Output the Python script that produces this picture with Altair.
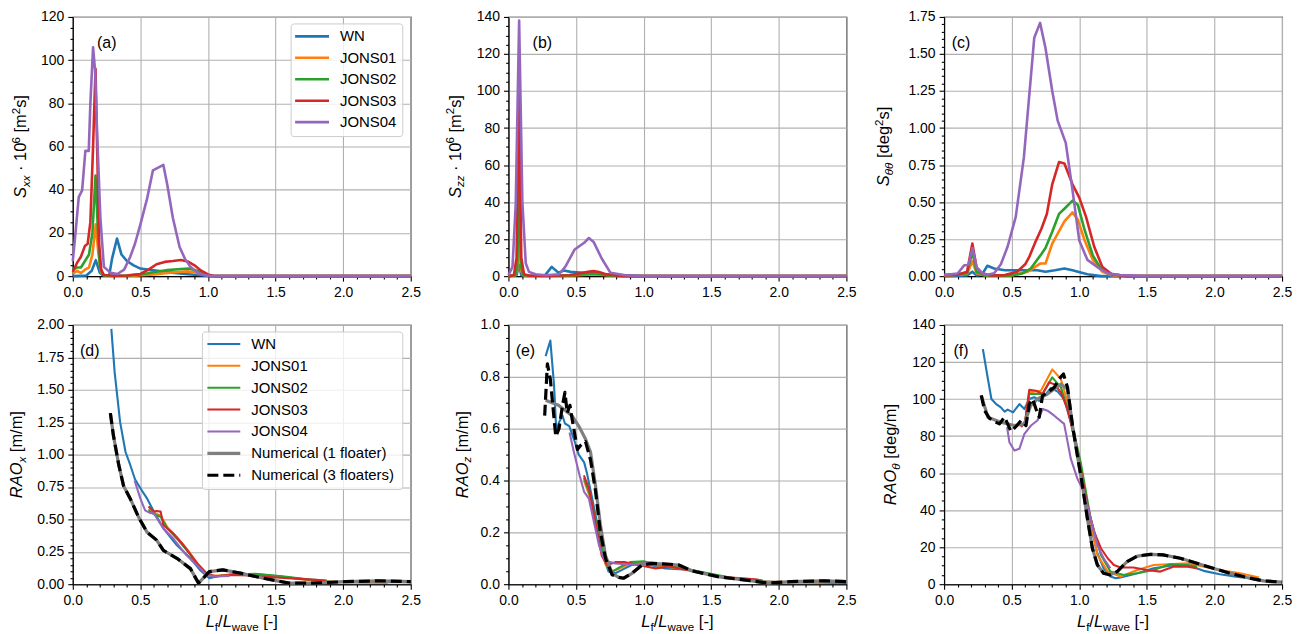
import altair as alt
import pandas as pd

FONT = "Liberation Sans"
W, H = 339, 260
TS = 16.5  # axis-title font size
LS = 15    # legend font size
PS = 16    # panel-label font size

NAMES = ["WN", "JONS01", "JONS02", "JONS03", "JONS04",
         "Numerical (1 floater)", "Numerical (3 floaters)"]
COLORS = ["#1f77b4", "#ff7f0e", "#2ca02c", "#d62728", "#9467bd", "#7f7f7f", "#000000"]
DASH = [11, 5]

# ---------------- (a) S_xx ----------------
sxx_wn_x = [0.0, 0.10, 0.14, 0.17, 0.20, 0.23, 0.27, 0.29, 0.327, 0.36, 0.40, 0.45, 0.50, 0.58, 0.66, 0.75, 0.85, 0.95, 1.02, 2.5]
sxx_wn_y = [0.0, 0.3, 2.5, 7.4, 1.5, 0.2, 0.5, 8.0, 17.4, 10.0, 7.0, 5.0, 3.5, 2.8, 2.2, 1.5, 0.9, 0.4, 0.0, 0.0]
sxx_j1_x = [0.0, 0.03, 0.06, 0.09, 0.12, 0.145, 0.17, 0.19, 0.21, 0.24, 0.3, 0.45, 0.6, 0.7, 0.8, 0.85, 0.9, 0.95, 1.0, 1.05, 2.5]
sxx_j1_y = [1.0, 2.5, 1.5, 3.0, 4.0, 10.0, 24.0, 10.0, 1.5, 0.3, 0.1, 0.2, 0.8, 1.5, 2.0, 2.2, 1.8, 1.0, 0.4, 0.0, 0.0]
sxx_j2_x = [0.0, 0.03, 0.06, 0.09, 0.12, 0.145, 0.168, 0.185, 0.2, 0.22, 0.26, 0.4, 0.5, 0.6, 0.7, 0.8, 0.86, 0.92, 0.97, 1.02, 2.5]
sxx_j2_y = [3.0, 4.0, 4.0, 7.0, 10.0, 20.0, 46.6, 22.0, 5.0, 0.5, 0.2, 0.3, 0.8, 1.8, 2.8, 3.3, 3.5, 2.5, 1.2, 0.0, 0.0]
sxx_j3_x = [0.0, 0.03, 0.06, 0.09, 0.11, 0.13, 0.15, 0.168, 0.18, 0.195, 0.21, 0.23, 0.3, 0.4, 0.5, 0.56, 0.62, 0.68, 0.74, 0.8, 0.85, 0.9, 0.95, 1.0, 1.05, 2.5]
sxx_j3_y = [2.0, 6.0, 9.0, 14.0, 15.0, 25.0, 60.0, 96.0, 60.0, 15.0, 3.0, 0.5, 0.2, 0.3, 1.0, 3.0, 5.5, 6.6, 7.0, 7.5, 6.8, 5.0, 2.5, 0.8, 0.0, 0.0]
sxx_j4_x = [0.0, 0.02, 0.044, 0.069, 0.093, 0.118, 0.13, 0.15, 0.165, 0.18, 0.204, 0.23, 0.28, 0.33, 0.38, 0.425, 0.46, 0.5, 0.55, 0.593, 0.67, 0.7, 0.74, 0.79, 0.83, 0.87, 0.92, 0.97, 1.02, 2.5]
sxx_j4_y = [7.0, 20.0, 36.6, 39.7, 58.0, 58.0, 80.0, 106.0, 95.0, 66.0, 27.0, 4.3, 1.5, 1.0, 3.0, 9.0, 15.0, 24.0, 36.0, 49.0, 51.5, 42.0, 27.0, 13.5, 8.0, 4.3, 1.8, 0.5, 0.0, 0.0]

# ---------------- (b) S_zz ----------------
szz_wn_x = [0.0, 0.06, 0.079, 0.095, 0.12, 0.2, 0.27, 0.32, 0.37, 0.41, 0.46, 0.55, 0.65, 0.75, 0.85, 1.0, 2.5]
szz_wn_y = [0.0, 0.5, 6.0, 0.5, 0.2, 0.2, 0.4, 5.0, 1.8, 3.0, 2.3, 1.8, 1.3, 0.8, 0.4, 0.0, 0.0]
szz_j1_x = [0.0, 0.05, 0.065, 0.079, 0.093, 0.11, 0.15, 0.4, 0.55, 0.62, 0.7, 0.8, 2.5]
szz_j1_y = [0.0, 0.4, 3.0, 25.0, 3.0, 0.5, 0.1, 0.1, 0.6, 0.9, 0.6, 0.1, 0.0]
szz_j2_x = [0.0, 0.05, 0.065, 0.079, 0.093, 0.11, 0.15, 0.3, 0.5, 0.6, 0.63, 0.68, 0.75, 0.85, 2.5]
szz_j2_y = [0.0, 0.5, 5.0, 49.0, 5.0, 0.6, 0.2, 0.1, 0.6, 1.3, 1.5, 1.1, 0.4, 0.0, 0.0]
szz_j3_x = [0.0, 0.04, 0.06, 0.079, 0.095, 0.115, 0.15, 0.3, 0.45, 0.55, 0.6, 0.63, 0.67, 0.72, 0.8, 0.9, 2.5]
szz_j3_y = [0.0, 0.5, 10.0, 100.0, 10.0, 1.0, 0.3, 0.2, 0.5, 1.8, 2.5, 2.7, 2.2, 1.0, 0.3, 0.0, 0.0]
szz_j4_x = [0.0, 0.03, 0.054, 0.079, 0.103, 0.128, 0.152, 0.2, 0.275, 0.374, 0.42, 0.49, 0.56, 0.595, 0.63, 0.69, 0.755, 0.865, 0.99, 2.5]
szz_j4_y = [0.5, 5.0, 39.0, 138.0, 40.0, 7.0, 2.3, 1.0, 0.5, 1.0, 5.0, 14.4, 18.0, 20.6, 18.5, 9.5, 1.8, 0.5, 0.0, 0.0]

# ---------------- (c) S_thetatheta ----------------
stt_wn_x = [0.0, 0.17, 0.209, 0.24, 0.28, 0.32, 0.37, 0.45, 0.57, 0.69, 0.75, 0.82, 0.89, 0.95, 0.99, 1.06, 1.16, 1.3, 2.5]
stt_wn_y = [0.0, 0.005, 0.03, 0.005, 0.01, 0.07, 0.052, 0.04, 0.04, 0.04, 0.03, 0.04, 0.052, 0.04, 0.03, 0.013, 0.0, 0.0, 0.0]
stt_j1_x = [0.0, 0.17, 0.209, 0.24, 0.3, 0.5, 0.62, 0.71, 0.75, 0.8, 0.89, 0.95, 0.99, 1.04, 1.1, 1.17, 1.24, 1.35, 2.5]
stt_j1_y = [0.003, 0.015, 0.10, 0.02, 0.004, 0.005, 0.03, 0.085, 0.085, 0.22, 0.37, 0.43, 0.38, 0.24, 0.11, 0.03, 0.007, 0.0, 0.0]
stt_j2_x = [0.0, 0.17, 0.209, 0.24, 0.3, 0.5, 0.58, 0.64, 0.72, 0.75, 0.8, 0.85, 0.89, 0.95, 0.99, 1.04, 1.1, 1.16, 1.24, 1.35, 2.5]
stt_j2_y = [0.005, 0.02, 0.164, 0.03, 0.005, 0.005, 0.018, 0.05, 0.15, 0.19, 0.3, 0.42, 0.455, 0.51, 0.48, 0.31, 0.14, 0.05, 0.013, 0.0, 0.0]
stt_j3_x = [0.0, 0.1, 0.17, 0.209, 0.24, 0.28, 0.35, 0.45, 0.54, 0.6, 0.63, 0.68, 0.72, 0.76, 0.8, 0.85, 0.89, 0.95, 1.0, 1.05, 1.11, 1.17, 1.24, 1.35, 2.5]
stt_j3_y = [0.007, 0.01, 0.03, 0.22, 0.06, 0.02, 0.005, 0.007, 0.03, 0.08, 0.13, 0.24, 0.32, 0.42, 0.62, 0.77, 0.76, 0.62, 0.53, 0.4, 0.2, 0.063, 0.013, 0.0, 0.0]
stt_j4_x = [0.0, 0.1, 0.15, 0.18, 0.21, 0.24, 0.28, 0.32, 0.37, 0.42, 0.47, 0.53, 0.59, 0.667, 0.71, 0.75, 0.8, 0.84, 0.9, 0.95, 1.0, 1.06, 1.13, 1.21, 1.3, 1.5, 2.5]
stt_j4_y = [0.007, 0.018, 0.074, 0.075, 0.19, 0.06, 0.02, 0.01, 0.02, 0.08, 0.2, 0.4, 0.8, 1.61, 1.71, 1.54, 1.25, 1.05, 0.9, 0.58, 0.24, 0.11, 0.063, 0.02, 0.007, 0.0, 0.0]

# ---------------- (d) RAO_x ----------------
raox_wn_x = [0.285, 0.31, 0.35, 0.39, 0.425, 0.46, 0.5, 0.55, 0.6, 0.67, 0.77, 0.87, 0.94, 1.01, 1.09, 1.21, 1.41, 1.65, 1.9, 2.14, 2.39, 2.5]
raox_wn_y = [1.97, 1.63, 1.25, 1.02, 0.92, 0.81, 0.74, 0.66, 0.56, 0.43, 0.30, 0.20, 0.11, 0.046, 0.067, 0.077, 0.072, 0.046, 0.02, 0.015, 0.015, 0.015]
raox_j1_x = [0.56, 0.6, 0.65, 0.7, 0.78, 0.86, 0.93, 0.98, 1.03, 1.1, 1.2, 1.35, 1.55, 1.75, 1.95, 2.15, 2.33]
raox_j1_y = [0.58, 0.55, 0.53, 0.44, 0.35, 0.25, 0.15, 0.09, 0.065, 0.068, 0.076, 0.074, 0.055, 0.03, 0.018, 0.012, 0.01]
raox_j2_x = [0.56, 0.6, 0.65, 0.7, 0.78, 0.86, 0.93, 0.98, 1.03, 1.1, 1.2, 1.35, 1.55, 1.75, 1.88]
raox_j2_y = [0.57, 0.54, 0.52, 0.43, 0.34, 0.24, 0.14, 0.08, 0.06, 0.065, 0.075, 0.08, 0.06, 0.035, 0.028]
raox_j3_x = [0.56, 0.6, 0.62, 0.65, 0.67, 0.745, 0.82, 0.92, 0.99, 1.06, 1.16, 1.31, 1.53, 1.8, 1.87]
raox_j3_y = [0.60, 0.56, 0.565, 0.56, 0.455, 0.39, 0.30, 0.16, 0.085, 0.059, 0.072, 0.067, 0.05, 0.033, 0.026]
raox_j4_x = [0.457, 0.5, 0.535, 0.57, 0.6, 0.67, 0.745, 0.84, 0.94, 0.99, 1.06, 1.16]
raox_j4_y = [0.80, 0.66, 0.57, 0.55, 0.545, 0.43, 0.35, 0.225, 0.123, 0.07, 0.059, 0.064]
raox_n1_x = [0.278, 0.3, 0.34, 0.375, 0.425, 0.49, 0.55, 0.62, 0.67, 0.77, 0.87, 0.93, 0.965, 1.01, 1.11, 1.24, 1.41, 1.6, 1.78, 2.02, 2.27, 2.5]
raox_n1_y = [1.32, 1.15, 0.92, 0.76, 0.66, 0.51, 0.40, 0.34, 0.26, 0.20, 0.12, 0.008, 0.046, 0.097, 0.11, 0.085, 0.046, 0.008, 0.008, 0.02, 0.026, 0.02]
raox_n3_x = [0.278, 0.3, 0.34, 0.375, 0.425, 0.49, 0.55, 0.62, 0.67, 0.77, 0.87, 0.93, 0.965, 1.01, 1.11, 1.24, 1.41, 1.6, 1.78, 2.02, 2.27, 2.5]
raox_n3_y = [1.32, 1.15, 0.92, 0.76, 0.66, 0.51, 0.40, 0.34, 0.26, 0.20, 0.12, 0.008, 0.046, 0.097, 0.11, 0.085, 0.046, 0.008, 0.008, 0.02, 0.026, 0.02]

# ---------------- (e) RAO_z ----------------
raoz_wn_x = [0.275, 0.31, 0.337, 0.354, 0.374, 0.4, 0.418, 0.45, 0.484, 0.52, 0.56, 0.58, 0.62, 0.67, 0.705, 0.74, 0.79, 0.84, 0.91, 1.01, 1.16, 1.36, 1.55, 1.8, 2.0, 2.5]
raoz_wn_y = [0.88, 0.94, 0.77, 0.59, 0.625, 0.65, 0.62, 0.61, 0.56, 0.50, 0.47, 0.43, 0.33, 0.20, 0.10, 0.049, 0.042, 0.055, 0.074, 0.08, 0.061, 0.055, 0.029, 0.013, 0.008, 0.005]
raoz_j1_x = [0.558, 0.6, 0.64, 0.68, 0.72, 0.76, 0.82, 0.9, 1.0, 1.1, 1.25, 1.45, 1.65, 1.9, 2.1, 2.33]
raoz_j1_y = [0.40, 0.34, 0.25, 0.15, 0.075, 0.05, 0.06, 0.08, 0.085, 0.072, 0.062, 0.042, 0.022, 0.01, 0.008, 0.008]
raoz_j2_x = [0.558, 0.6, 0.64, 0.68, 0.72, 0.76, 0.82, 0.9, 1.0, 1.1, 1.25, 1.45, 1.65, 1.88]
raoz_j2_y = [0.41, 0.35, 0.26, 0.16, 0.08, 0.045, 0.065, 0.085, 0.088, 0.075, 0.065, 0.045, 0.025, 0.015]
raoz_j3_x = [0.558, 0.595, 0.62, 0.657, 0.69, 0.73, 0.79, 0.865, 0.96, 1.09, 1.19, 1.36, 1.55, 1.8, 1.85]
raoz_j3_y = [0.42, 0.37, 0.305, 0.20, 0.11, 0.074, 0.085, 0.085, 0.074, 0.061, 0.068, 0.051, 0.029, 0.02, 0.017]
raoz_j4_x = [0.452, 0.484, 0.526, 0.56, 0.595, 0.62, 0.67, 0.705, 0.74, 0.79, 0.865, 0.96, 1.04, 1.09]
raoz_j4_y = [0.585, 0.51, 0.42, 0.356, 0.33, 0.27, 0.15, 0.10, 0.087, 0.08, 0.077, 0.077, 0.085, 0.08]
raoz_n1_x = [0.275, 0.37, 0.47, 0.52, 0.57, 0.607, 0.644, 0.68, 0.718, 0.767, 0.816, 0.853, 0.914, 0.988, 1.06, 1.19, 1.26, 1.36, 1.55, 1.8, 1.92, 2.09, 2.34, 2.5]
raoz_n1_y = [0.71, 0.69, 0.65, 0.61, 0.56, 0.51, 0.38, 0.23, 0.11, 0.042, 0.026, 0.023, 0.042, 0.074, 0.08, 0.077, 0.074, 0.051, 0.029, 0.013, 0.004, 0.01, 0.013, 0.01]
raoz_n3_x = [0.268, 0.288, 0.31, 0.35, 0.374, 0.4, 0.418, 0.435, 0.455, 0.47, 0.51, 0.533, 0.57, 0.607, 0.644, 0.68, 0.718, 0.767, 0.816, 0.853, 0.914, 0.988, 1.06, 1.19, 1.26, 1.36, 1.55, 1.8, 1.92, 2.09, 2.34, 2.5]
raoz_n3_y = [0.65, 0.85, 0.79, 0.57, 0.60, 0.69, 0.74, 0.66, 0.69, 0.64, 0.52, 0.535, 0.55, 0.48, 0.36, 0.20, 0.10, 0.036, 0.026, 0.023, 0.042, 0.074, 0.08, 0.077, 0.074, 0.051, 0.029, 0.013, 0.004, 0.01, 0.013, 0.01]

# ---------------- (f) RAO_theta ----------------
raot_wn_x = [0.287, 0.32, 0.35, 0.385, 0.42, 0.447, 0.47, 0.51, 0.557, 0.594, 0.63, 0.667, 0.704, 0.753, 0.79, 0.84, 0.888, 0.937, 0.986, 1.035, 1.084, 1.13, 1.18, 1.23, 1.27, 1.305, 1.43, 1.55, 1.67, 1.8, 1.92, 2.04, 2.16, 2.29, 2.41, 2.5]
raot_wn_y = [127, 112.6, 100, 97.3, 95.5, 93.2, 94.3, 92.8, 97.3, 94.6, 100, 101, 99, 102.7, 106, 104, 100, 87.5, 71.3, 51.6, 31.9, 17.6, 8.6, 4.1, 3.2, 3.6, 5.9, 8.6, 10, 10.4, 7.2, 5.4, 4.1, 2.9, 1.1, 1.1]
raot_j1_x = [0.6, 0.63, 0.716, 0.8, 0.864, 0.913, 0.986, 1.06, 1.134, 1.21, 1.305, 1.43, 1.55, 1.8, 2.04, 2.19, 2.33]
raot_j1_y = [88, 103.6, 104.5, 116, 110.8, 98.2, 73, 42.7, 15.8, 6.8, 4.1, 7.7, 10.4, 11.3, 7.7, 5.9, 3.6]
raot_j2_x = [0.6, 0.63, 0.728, 0.8, 0.864, 0.937, 1.01, 1.084, 1.16, 1.23, 1.33, 1.43, 1.55, 1.67, 1.8, 1.87]
raot_j2_y = [88, 102.7, 102.7, 111.7, 106.3, 89.3, 66, 35.5, 15.8, 6.8, 5, 5.9, 7.7, 10.8, 10.4, 9.5]
raot_j3_x = [0.57, 0.6, 0.63, 0.68, 0.728, 0.777, 0.815, 0.864, 0.913, 0.96, 1.01, 1.06, 1.11, 1.16, 1.21, 1.256, 1.305, 1.4, 1.5, 1.6, 1.7, 1.8, 1.87]
raot_j3_y = [84.8, 88, 105, 104.5, 102.7, 109, 108, 103.6, 94.6, 80.3, 62.4, 42.7, 28.3, 19.4, 14, 10.4, 9, 9, 7.7, 6.8, 9.5, 9.5, 8.6]
raot_j4_x = [0.466, 0.483, 0.52, 0.557, 0.594, 0.643, 0.69, 0.73, 0.765, 0.815, 0.888, 0.937, 0.986, 1.035, 1.084, 1.134, 1.18, 1.23]
raot_j4_y = [84.8, 76.7, 72.2, 73.1, 81.2, 85.7, 88.4, 94.6, 93.7, 91, 86.6, 67.8, 57, 49.8, 35.5, 21.1, 14, 8.6]
raot_n1_x = [0.275, 0.324, 0.42, 0.52, 0.594, 0.64, 0.69, 0.765, 0.815, 0.864, 0.913, 0.95, 0.986, 1.023, 1.06, 1.097, 1.134, 1.18, 1.23, 1.28, 1.354, 1.43, 1.526, 1.62, 1.747, 1.87, 1.99, 2.115, 2.24, 2.36, 2.5]
raot_n1_y = [102, 90.2, 87.5, 85.7, 86.6, 96.4, 100, 102.7, 105.4, 108, 105.4, 85.7, 69.5, 53.4, 35.5, 19.4, 10.4, 5.9, 5, 6.8, 12.2, 15.2, 16.1, 15.8, 14, 11.3, 8.6, 5.9, 3.6, 1.8, 1.1]
raot_n3_x = [0.275, 0.3, 0.336, 0.373, 0.41, 0.447, 0.47, 0.495, 0.527, 0.57, 0.606, 0.63, 0.655, 0.68, 0.704, 0.728, 0.765, 0.815, 0.85, 0.883, 0.913, 0.95, 0.986, 1.023, 1.06, 1.097, 1.134, 1.18, 1.23, 1.28, 1.354, 1.43, 1.526, 1.62, 1.747, 1.87, 1.99, 2.115, 2.24, 2.36, 2.5]
raot_n3_y = [102, 93.7, 89.6, 87.8, 86.6, 90.2, 86.6, 82.5, 84.8, 88.4, 85.7, 97.3, 100, 94.6, 90.2, 101.8, 103.6, 106.3, 110.8, 113.5, 106.3, 85.7, 69.5, 53.4, 35.5, 19.4, 10.4, 5.9, 5, 6.8, 12.2, 15.2, 16.1, 15.8, 14, 11.3, 8.6, 5.9, 3.6, 1.8, 1.1]

# tick positions
X_TICKS = [round(i * 0.1, 2) for i in range(26)]

# ---------------- helpers ----------------
CW = {' ': 278, '[': 278, ']': 278, '-': 333, '/': 278, '(': 333, ')': 333, '·': 278,
      'A': 667, 'L': 556, 'O': 778, 'R': 722, 'S': 667, 'a': 556, 'd': 556, 'e': 556,
      'f': 278, 'g': 556, 'm': 833, 's': 500, 'v': 500, 'w': 722, 'x': 500, 'z': 500,
      'θ': 556}


def tw(s, fs):
    return sum(CW.get(c, 556) for c in s) * fs / 1000.0


DUMMY = pd.DataFrame({"d": [0]})


def txt(s, x, y, fs, italic=False, angle=0, align="left", baseline="alphabetic"):
    return alt.Chart(DUMMY).mark_text(
        text=s, font=FONT, fontSize=fs, fontStyle="italic" if italic else "normal",
        angle=angle, align=align, baseline=baseline, color="black"
    ).encode(x=alt.value(x), y=alt.value(y))


def rich(segs, vertical, base):
    items = []
    for s, k in segs:
        fs = TS * 0.7 if k in ("sub", "isub", "sup") else TS
        items.append((s, k, fs, tw(s, fs)))
    total = sum(i[3] for i in items)
    out, cum = [], 0.0
    for s, k, fs, w in items:
        shift = 0.22 * TS if k in ("sub", "isub") else (-0.38 * TS if k == "sup" else 0.0)
        lead = tw(s[:len(s) - len(s.lstrip())], fs)
        ital = k in ("i", "isub")
        if vertical:
            out.append(txt(s.strip(), base + shift, H / 2 + total / 2 - cum - lead, fs, ital, 270))
        else:
            out.append(txt(s.strip(), W / 2 - total / 2 + cum + lead, base + shift, fs, ital, 0))
        cum += w
    return out


def make_axis(vals, major, fmt):
    cond = f"abs(datum.value/{major} - round(datum.value/{major})) < 1e-6"
    return alt.Axis(
        values=vals, title=None, grid=True,
        labelExpr=f"{cond} ? format(datum.value, '{fmt}') : ''",
        labelOverlap=False, labelFlush=False,
        tickSize={"condition": {"test": cond, "value": 5}, "value": 2.8},
        gridOpacity={"condition": {"test": cond, "value": 1}, "value": 0},
    )


def legend(idx, box, y0, dy, sx0, sx1, tx, widths):
    layers = [alt.Chart(DUMMY).mark_rect(
        fill="white", fillOpacity=0.8, stroke="#cccccc", strokeWidth=1, cornerRadius=3
    ).encode(x=alt.value(box[0]), x2=alt.value(box[1]), y=alt.value(box[2]), y2=alt.value(box[3]))]
    for j, i in enumerate(idx):
        y = y0 + j * dy
        kw = dict(color=COLORS[i], strokeWidth=widths[i])
        if i == 6:
            kw["strokeDash"] = DASH
        layers.append(alt.Chart(DUMMY).mark_rule(**kw).encode(
            x=alt.value(sx0), x2=alt.value(sx1), y=alt.value(y)))
        layers.append(txt(NAMES[i], tx, y, LS, baseline="middle"))
    return layers


XTITLE = [("L", "i"), ("f", "sub"), ("/", "n"), ("L", "i"), ("wave", "sub"), (" [-]", "n")]
TOP_W = [2.6] * 7
BOT_W = [2.1, 2.1, 2.1, 2.1, 2.1, 3.2, 3.2]


def panel(series, ymax, ystep, ymajor, yfmt, label, lab_x, ytitle, ybase, bottom, leg=None):
    n = int(round(ymax / ystep))
    yvals = [round(i * ystep, 4) for i in range(n + 1)]
    xs = alt.Scale(domain=[0, 2.5], nice=False, zero=False)
    ys = alt.Scale(domain=[0, ymax], nice=False, zero=False)
    xa = make_axis(X_TICKS, 0.5, ".1f")
    ya = make_axis(yvals, ymajor, yfmt)
    widths = BOT_W if bottom else TOP_W
    layers = []
    for i, (xv, yv) in enumerate(series):
        kw = dict(color=COLORS[i], strokeWidth=widths[i], strokeJoin="round")
        if i == 6:
            kw["strokeDash"] = DASH
        df = pd.DataFrame({"x": xv, "y": yv})
        layers.append(alt.Chart(df).mark_line(**kw).encode(
            x=alt.X("x:Q", scale=xs, axis=xa),
            y=alt.Y("y:Q", scale=ys, axis=ya)))
    if leg is not None:
        layers += leg
    layers.append(txt(label, lab_x, 26, PS, align="center", baseline="middle"))
    layers += rich(ytitle, True, ybase)
    if bottom:
        layers += rich(XTITLE, False, H + 43)
    return alt.layer(*layers).properties(width=W, height=H)


leg_a = legend([0, 1, 2, 3, 4], (219, 331, 7, 120), 19.5, 21.5, 223, 257, 268, TOP_W)
leg_d = legend([0, 1, 2, 3, 4, 5, 6], (130, 331, 7, 165), 19, 21.95, 135, 168, 179, BOT_W)

pa = panel([(sxx_wn_x, sxx_wn_y), (sxx_j1_x, sxx_j1_y), (sxx_j2_x, sxx_j2_y), (sxx_j3_x, sxx_j3_y), (sxx_j4_x, sxx_j4_y)],
           120, 5, 20, ".0f", "(a)", 34,
           [("S", "i"), ("xx", "isub"), (" · 10", "n"), ("6", "sup"), (" [m", "n"), ("2", "sup"), ("s]", "n")],
           -46.5, False, leg_a)
pb = panel([(szz_wn_x, szz_wn_y), (szz_j1_x, szz_j1_y), (szz_j2_x, szz_j2_y), (szz_j3_x, szz_j3_y), (szz_j4_x, szz_j4_y)],
           140, 5, 20, ".0f", "(b)", 34,
           [("S", "i"), ("zz", "isub"), (" · 10", "n"), ("6", "sup"), (" [m", "n"), ("2", "sup"), ("s]", "n")],
           -48, False)
pc = panel([(stt_wn_x, stt_wn_y), (stt_j1_x, stt_j1_y), (stt_j2_x, stt_j2_y), (stt_j3_x, stt_j3_y), (stt_j4_x, stt_j4_y)],
           1.75, 0.05, 0.25, ".2f", "(c)", 17,
           [("S", "i"), ("θθ", "isub"), (" [deg", "n"), ("2", "sup"), ("s]", "n")],
           -55, False)
pd_ = panel([(raox_wn_x, raox_wn_y), (raox_j1_x, raox_j1_y), (raox_j2_x, raox_j2_y), (raox_j3_x, raox_j3_y),
             (raox_j4_x, raox_j4_y), (raox_n1_x, raox_n1_y), (raox_n3_x, raox_n3_y)],
            2.0, 0.05, 0.25, ".2f", "(d)", 17,
            [("RAO", "i"), ("x", "isub"), (" [m/m]", "n")],
            -51, True, leg_d)
pe = panel([(raoz_wn_x, raoz_wn_y), (raoz_j1_x, raoz_j1_y), (raoz_j2_x, raoz_j2_y), (raoz_j3_x, raoz_j3_y),
            (raoz_j4_x, raoz_j4_y), (raoz_n1_x, raoz_n1_y), (raoz_n3_x, raoz_n3_y)],
           1.0, 0.05, 0.2, ".1f", "(e)", 17,
           [("RAO", "i"), ("z", "isub"), (" [m/m]", "n")],
           -41, True)
pf = panel([(raot_wn_x, raot_wn_y), (raot_j1_x, raot_j1_y), (raot_j2_x, raot_j2_y), (raot_j3_x, raot_j3_y),
            (raot_j4_x, raot_j4_y), (raot_n1_x, raot_n1_y), (raot_n3_x, raot_n3_y)],
           140, 5, 20, ".0f", "(f)", 17,
           [("RAO", "i"), ("θ", "isub"), (" [deg/m]", "n")],
           -48, True)

chart = alt.concat(pa, pb, pc, pd_, pe, pf, columns=3,
                   spacing={"row": 49, "column": 98}, bounds="flush").properties(
    padding={"left": 0, "top": 0, "right": 5, "bottom": 0}
).configure(font=FONT).configure_view(
    stroke="black", strokeWidth=1.1
).configure_axis(
    domainColor="black", domainWidth=1.1, tickColor="black", tickWidth=1.1,
    labelFont=FONT, labelFontSize=14, labelColor="black", labelPadding=4,
    gridColor="#b0b0b0", gridWidth=1.1
)

chart.save("out.html", embed_options={"renderer": "svg", "actions": False})
